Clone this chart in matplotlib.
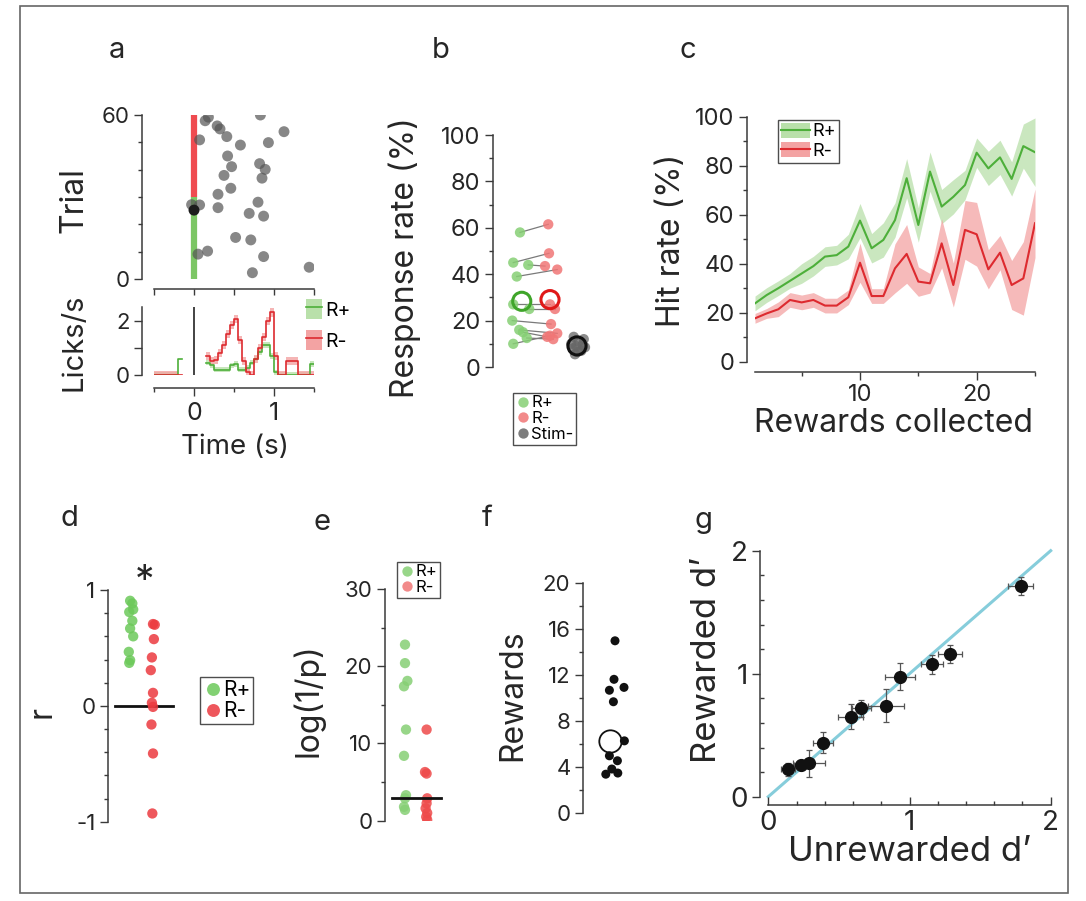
import numpy as np
import matplotlib
matplotlib.use("Agg")
import matplotlib.pyplot as plt
from matplotlib.patches import Rectangle, Patch
from matplotlib.lines import Line2D
from matplotlib.ticker import MultipleLocator, FixedLocator

plt.rcParams['font.family'] = ['Inter', 'DejaVu Sans']
plt.rcParams['axes.unicode_minus'] = False

# ---------------- data ----------------
# a: lick raster (time of first lick, trial number)
raster_time = [0.18, 0.14, 0.29, 0.325, 0.83, 1.125, 0.07, 0.41, 0.58, 0.93, 0.42,
               0.82, 0.47, 0.89, 0.375, 0.85, 0.46, 0.30, 0.80, -0.03, 0.07, 0.30,
               0.69, 0.87, 0.52, 0.71, 0.17, 0.05, 0.87, 1.44, 0.73]
raster_trial = [59.2, 57.9, 56.0, 54.9, 60.0, 53.9, 50.9, 52.1, 49.0, 49.9, 45.0,
                42.2, 41.1, 40.1, 37.9, 36.9, 33.2, 31.0, 28.1, 27.2, 27.1, 26.1,
                24.0, 23.0, 15.2, 14.3, 10.2, 9.1, 8.2, 4.3, 2.3]
highlight_trial = 25.2
rplus_block = (0, 30)
rminus_block = (30, 60)

# a: lick rate histogram (bins of 0.05 s from -0.5 s)
lick_bin_width = 0.05
lick_rplus = [0, 0, 0, 0, 0, 0, 0.6, np.nan, np.nan, np.nan, np.nan, np.nan, np.nan,
              0.45, 0.35, 0.2, 0.2, 0.2, 0.2, 0.35, 0.4, 0.2, 0.2, 0.25, 0.45, 0.6,
              0.85, 1.1, 1.1, 0.7, 0.1, 0, 0, 0, 0, 0, 0, 0, 0, 0.4]
lick_rminus = [0, 0, 0, 0, 0, 0, 0, np.nan, np.nan, np.nan, np.nan, np.nan, np.nan,
               0.7, 0.5, 0.55, 0.8, 1.1, 1.5, 1.85, 2.05, 1.3, 0.5, 0.1, 0.0, 0.6,
               1.0, 1.4, 2.0, 2.3, 0.7, 0, 0, 0.5, 0.5, 0.5, 0, 0, 0, 0]
lick_sem_rplus = 0.1
lick_sem_rminus = 0.15

# b: response rates per animal
resp_rplus = [58, 45, 44, 39, 27, 25, 20, 16, 15, 12.5, 10]
resp_rminus = [61.5, 49, 43.5, 42, 27, 25, 18.5, 14.5, 13, 12, 13.5]
resp_stim = [13, 12, 11, 10, 9.5, 9, 8.5, 8, 7, 6.5, 5.5]
jit_rplus = [0, -0.27, 0.33, -0.13, -0.27, 0.37, -0.31, -0.03, 0.12, 0.27, -0.27]
jit_rminus = [0.13, 0.16, 0, 0.49, 0.2, 0.4, 0.24, 0.49, 0.09, 0.33, 0.2]
jit_stim = [-0.1, 0.3, 0.1, -0.2, 0.25, 0.0, 0.35, -0.15, 0.2, 0.05, -0.05]

# c: hit rate vs rewards collected
rewards = list(range(1, 26))
hit_rplus = [23.8, 27.2, 30, 33, 36, 39, 42.9, 43.5, 47, 57.6, 46.3, 49.7, 57.8,
             74.9, 55.8, 77.6, 63.3, 67.3, 72.1, 85.3, 78.9, 83.4, 74.6, 88, 85.5]
hit_rplus_sem = [3, 3, 3, 3, 4, 4, 4, 4, 5, 7, 6, 7, 7, 8, 7, 8, 7, 7, 6, 6, 7, 7,
                 7, 9, 14]
hit_rminus = [17.7, 19.7, 21.4, 25.2, 24.2, 25.2, 22.9, 22.9, 26.3, 40.4, 26.8,
              26.8, 38.1, 44, 32.7, 32, 48.3, 31.3, 53.8, 52, 37.7, 44.5, 31.3, 34,
              56.5]
hit_rminus_sem = [2, 2, 3, 3, 3, 3, 3, 3, 3, 8, 3, 3, 10, 12, 6, 4, 10, 9, 12, 13,
                  8, 7, 10, 15, 14]

# d: correlation coefficients
r_rplus = [0.907, 0.884, 0.832, 0.81, 0.734, 0.668, 0.60, 0.466, 0.394, 0.371]
r_rminus = [0.706, 0.70, 0.576, 0.418, 0.308, 0.112, 0.026, -0.009, -0.161, -0.411,
            -0.929]
jit_r_rplus = [-0.04, 0.06, 0.1, -0.08, 0.06, -0.04, 0.1, -0.1, -0.04, -0.08]
jit_r_rminus = [0.0, 0.08, 0.04, -0.05, -0.1, 0.0, -0.05, 0.0, -0.07, 0.0, -0.03]

# e: significance
logp_rplus = [22.8, 20.4, 18.1, 17.4, 11.8, 8.4, 3.3, 2.9, 1.8, 1.4]
logp_rminus = [11.8, 6.3, 6.1, 2.9, 2.25, 1.6, 1.0, 0.5, 0.1]
jit_logp_rplus = [0, 0, 0.12, -0.05, 0.05, -0.05, 0.05, 0, -0.05, 0]
jit_logp_rminus = [0, -0.08, 0, 0.03, 0, -0.05, 0.03, -0.02, 0.03]
logp_threshold = 3.0

# f: rewards per animal
n_rewards = [15, 11.65, 10.7, 10.95, 9.7, 6.3, 5.0, 4.57, 3.85, 3.4, 3.5]
jit_rewards = [0.05, 0.0, -0.23, 0.5, -0.03, 0.52, -0.23, 0.17, -0.11, -0.41, 0.19]

# g: d' comparison
dprime_unrew = [0.142, 0.229, 0.29, 0.385, 0.584, 0.66, 0.834, 0.933, 1.16, 1.29, 1.787]
dprime_rew = [0.222, 0.258, 0.27, 0.44, 0.65, 0.72, 0.74, 0.976, 1.076, 1.158, 1.713]
dprime_unrew_err = [0.05, 0.05, 0.115, 0.07, 0.09, 0.065, 0.126, 0.106, 0.077, 0.085, 0.087]
dprime_rew_err = [0.05, 0.04, 0.11, 0.085, 0.1, 0.07, 0.135, 0.108, 0.08, 0.073, 0.076]

# ---------------- styling ----------------
W, H = 1086, 901
fig = plt.figure(figsize=(W / 100, H / 100), dpi=100)

GREEN = '#4daf3a'
GREEN_FILL = '#b9e0aa'
GREEN_PT = '#86cf74'
RED = '#dd2a2f'
RED_FILL = '#f3a3a3'
RED_PT = '#f07676'
SPINE = '#3a3a3a'
TXT = '#262626'
PX = 0.72  # points per pixel


def rect(x0, y0, x1, y1):
    return [x0 / W, 1 - y1 / H, (x1 - x0) / W, (y1 - y0) / H]


def base_style(ax, left_out=0, bottom_out=None, fs=16):
    ax.spines['top'].set_visible(False)
    ax.spines['right'].set_visible(False)
    ax.spines['left'].set_position(('outward', left_out * PX))
    ax.spines['left'].set_color(SPINE)
    ax.spines['left'].set_linewidth(1.1)
    if bottom_out is None:
        ax.spines['bottom'].set_visible(False)
        ax.tick_params(axis='x', which='both', bottom=False, labelbottom=False)
    else:
        ax.spines['bottom'].set_position(('outward', bottom_out * PX))
        ax.spines['bottom'].set_color(SPINE)
        ax.spines['bottom'].set_linewidth(1.1)
    ax.tick_params(which='major', length=6, width=1.0, color=SPINE, labelsize=fs,
                   labelcolor=TXT, pad=3)
    ax.tick_params(which='minor', length=3, width=1.0, color=SPINE)
    ax.patch.set_alpha(0)


def fig_label(x, y, s, fs=23, rot=0, **kw):
    fig.text(x / W, 1 - y / H, s, fontsize=fs, rotation=rot, ha='center',
             va='center', color=TXT, **kw)


def small_legend(labels, colors, box, fs, alpha=0.85):
    handles = [Line2D([], [], ls='none', marker='o', ms=fs * 0.62, mfc=c, mec='none',
                      alpha=alpha) for c in colors]
    x0, y0 = box
    leg = fig.legend(handles, labels, loc='upper left',
                     bbox_to_anchor=(x0 / W, 1 - y0 / H), bbox_transform=fig.transFigure,
                     fontsize=fs, frameon=True, fancybox=False, borderpad=0.15,
                     handletextpad=0.05, labelspacing=0.05, handlelength=0.9,
                     borderaxespad=0)
    leg.get_frame().set_edgecolor('#222222')
    leg.get_frame().set_linewidth(1.0)
    return leg


# ---------------- a: raster ----------------
ax_r = fig.add_axes(rect(154, 115, 314, 279))
base_style(ax_r, left_out=12, bottom_out=10, fs=16)
ax_r.set_xlim(-0.5, 1.5)
ax_r.set_ylim(0, 60)
ax_r.set_yticks([0, 60])
ax_r.yaxis.set_minor_locator(MultipleLocator(10))
ax_r.set_xticks([-0.5, 0, 0.5, 1, 1.5])
ax_r.tick_params(axis='x', labelbottom=False, length=4)
ax_r.plot([0, 0], list(rminus_block), color='#ef4b50', lw=4.5, solid_capstyle='butt', zorder=1)
ax_r.plot([0, 0], list(rplus_block), color='#7cc665', lw=4.5, solid_capstyle='butt', zorder=1)
ax_r.scatter(raster_time, raster_trial, s=62, color='#555555', alpha=0.7,
             edgecolors='none', zorder=2)
ax_r.scatter([0], [highlight_trial], s=62, color='#1c1c1c', edgecolors='none', zorder=3)

# ---------------- a: lick rate ----------------
ax_l = fig.add_axes(rect(154, 307, 314, 375))
base_style(ax_l, left_out=12, bottom_out=13, fs=16)
ax_l.set_xlim(-0.5, 1.5)
ax_l.set_ylim(0, 2.5)
ax_l.set_yticks([0, 1, 2])
ax_l.set_yticklabels(['0', '', '2'])
ax_l.set_xticks([0, 1])
ax_l.xaxis.set_minor_locator(FixedLocator([-0.5, 0.5, 1.5]))
ax_l.tick_params(axis='x', labelsize=18, pad=4)
n_bins = len(lick_rplus)
edges = -0.5 + lick_bin_width * np.arange(n_bins + 1)
for vals, sem, col, fcol in [(lick_rplus, lick_sem_rplus, GREEN, GREEN_FILL),
                             (lick_rminus, lick_sem_rminus, RED, RED_FILL)]:
    v = np.append(np.asarray(vals, float), vals[-1])
    ax_l.fill_between(edges, np.clip(v - sem, 0, None), v + sem, step='post',
                      color=fcol, alpha=0.8, lw=0)
    ax_l.step(edges, v, where='post', color=col, lw=1.2)
ax_l.plot([0, 0], [0, 2.5], color='#222222', lw=1.2)
lick_handles = [(Patch(fc=GREEN_FILL, ec='none'), Line2D([], [], color=GREEN, lw=1.2)),
                (Patch(fc=RED_FILL, ec='none'), Line2D([], [], color=RED, lw=1.2))]
fig.legend(lick_handles, ['R+', 'R-'], loc='upper left',
           bbox_to_anchor=(306 / W, 1 - 299 / H), bbox_transform=fig.transFigure,
           fontsize=14, frameon=False, handlelength=0.8, handleheight=1.2,
           handletextpad=0.2, labelspacing=0.55, borderaxespad=0, borderpad=0)

fig_label(117, 50, 'a', fs=21)
fig_label(74, 200, 'Trial', rot=90, fs=23)
fig_label(74, 342, 'Licks/s', rot=90, fs=21)
fig_label(235, 447, 'Time (s)', fs=20)

# ---------------- b: response rate ----------------
ax_b = fig.add_axes(rect(495, 135, 595, 367))
base_style(ax_b, left_out=2, fs=17)
ax_b.set_xlim(0, 4)
ax_b.set_ylim(0, 100)
ax_b.set_yticks(range(0, 101, 20))
ax_b.yaxis.set_minor_locator(MultipleLocator(10))
pos_rp, pos_rm, pos_st = 1.0, 2.0, 3.25
xg = [pos_rp + j for j in jit_rplus]
xr = [pos_rm + j for j in jit_rminus]
xs = [pos_st + j for j in jit_stim]
for a, b, ya, yb in zip(xg, xr, resp_rplus, resp_rminus):
    ax_b.plot([a, b], [ya, yb], color='#7a7a7a', lw=0.9, zorder=1)
ax_b.scatter(xg, resp_rplus, s=55, color=GREEN_PT, alpha=0.85, edgecolors='none', zorder=2)
ax_b.scatter(xr, resp_rminus, s=55, color=RED_PT, alpha=0.85, edgecolors='none', zorder=2)
ax_b.scatter(xs, resp_stim, s=55, color='#666666', alpha=0.75, edgecolors='none', zorder=2)
ax_b.scatter([pos_rp + 0.07], [np.mean(resp_rplus)], s=170, facecolors='none',
             edgecolors='#3fa52a', linewidths=2.2, zorder=3)
ax_b.scatter([pos_rm + 0.2], [np.mean(resp_rminus)], s=170, facecolors='none',
             edgecolors='#e01818', linewidths=2.2, zorder=3)
ax_b.scatter([pos_st + 0.03], [np.mean(resp_stim)], s=170, facecolors='none',
             edgecolors='#111111', linewidths=2.2, zorder=3)
small_legend(['R+', 'R-', 'Stim-'], [GREEN_PT, RED_PT, '#666666'], (513, 393), 12)
fig_label(441, 50, 'b', fs=21)
fig_label(405, 258, 'Response rate (%)', rot=90, fs=23)

# ---------------- c: hit rate ----------------
ax_c = fig.add_axes(rect(755, 116.7, 1035, 361.7))
base_style(ax_c, left_out=8, bottom_out=10, fs=17)
ax_c.set_xlim(1, 25)
ax_c.set_ylim(0, 100)
ax_c.set_yticks(range(0, 101, 20))
ax_c.yaxis.set_minor_locator(MultipleLocator(10))
ax_c.set_xticks([10, 20])
ax_c.xaxis.set_minor_locator(FixedLocator([5, 15, 25]))
for m, s, col, fcol in [(hit_rplus, hit_rplus_sem, GREEN, GREEN_FILL),
                        (hit_rminus, hit_rminus_sem, RED, RED_FILL)]:
    m = np.asarray(m)
    s = np.asarray(s)
    ax_c.fill_between(rewards, m - s, m + s, color=fcol, alpha=0.75, lw=0)
    ax_c.plot(rewards, m, color=col, lw=1.5)
hit_handles = [(Patch(fc=GREEN_FILL, ec='none'), Line2D([], [], color=GREEN, lw=1.5)),
               (Patch(fc=RED_FILL, ec='none'), Line2D([], [], color=RED, lw=1.5))]
leg_c = fig.legend(hit_handles, ['R+', 'R-'], loc='upper left',
                   bbox_to_anchor=(778 / W, 1 - 120 / H), bbox_transform=fig.transFigure,
                   fontsize=13, frameon=True, fancybox=False, handlelength=1.6,
                   handleheight=0.9, handletextpad=0.15, labelspacing=0.1,
                   borderaxespad=0, borderpad=0.15)
leg_c.get_frame().set_edgecolor('#222222')
leg_c.get_frame().set_linewidth(1.0)
fig_label(688, 50, 'c', fs=21)
fig_label(672, 240, 'Hit rate (%)', rot=90, fs=23)
fig_label(893, 424, 'Rewards collected', fs=23)

# ---------------- d: correlation ----------------
ax_d = fig.add_axes(rect(109, 590, 175, 821.7))
base_style(ax_d, left_out=1, fs=16)
ax_d.set_xlim(0, 3)
ax_d.set_ylim(-1, 1)
ax_d.set_yticks([-1, 0, 1])
ax_d.yaxis.set_minor_locator(MultipleLocator(0.2))
ax_d.plot([0.27, 2.9], [0, 0], color='#111111', lw=2, zorder=1)
ax_d.scatter([1 + j for j in jit_r_rplus], r_rplus, s=55, color='#6cc95a',
             alpha=0.85, edgecolors='none', zorder=2)
ax_d.scatter([2 + j for j in jit_r_rminus], r_rminus, s=55, color='#ec3a3f',
             alpha=0.85, edgecolors='none', zorder=2)
fig_label(145, 583, '*', fs=28)
small_legend(['R+', 'R-'], ['#6cc95a', '#ec3a3f'], (200, 677), 15)
fig_label(69, 518, 'd', fs=21)
fig_label(42, 712, 'r', rot=90, fs=23)

# ---------------- e: log(1/p) ----------------
ax_e = fig.add_axes(rect(386, 589, 446, 820.7))
base_style(ax_e, left_out=1, fs=16)
ax_e.set_xlim(0, 3)
ax_e.set_ylim(0, 30)
ax_e.set_yticks([0, 10, 20, 30])
ax_e.yaxis.set_minor_locator(MultipleLocator(5))
ax_e.plot([0.28, 2.73], [logp_threshold, logp_threshold], color='#111111', lw=2, zorder=3)
ax_e.scatter([0.95 + j for j in jit_logp_rplus], logp_rplus, s=55, color=GREEN_PT,
             alpha=0.85, edgecolors='none', zorder=2)
ax_e.scatter([2.03 + j for j in jit_logp_rminus], logp_rminus, s=55, color='#ee4a4a',
             alpha=0.85, edgecolors='none', zorder=2)
small_legend(['R+', 'R-'], [GREEN_PT, RED_PT], (397, 562), 12)
fig_label(322, 522, 'e', fs=21)
fig_label(308, 700, 'log(1/p)', rot=90, fs=23)

# ---------------- f: rewards ----------------
ax_f = fig.add_axes(rect(584, 583.3, 644, 813.3))
base_style(ax_f, left_out=1, fs=16)
ax_f.set_xlim(0, 3)
ax_f.set_ylim(0, 20)
ax_f.set_yticks(range(0, 21, 4))
ax_f.yaxis.set_minor_locator(MultipleLocator(2))
ax_f.scatter([1.5 + j for j in jit_rewards], n_rewards, s=42, color='#111111',
             edgecolors='none', zorder=2)
ax_f.scatter([1.3], [np.median(n_rewards)], s=260, facecolors='white',
             edgecolors='#111111', linewidths=1.3, zorder=1)
fig_label(487, 519, 'f', fs=21)
fig_label(513, 695, 'Rewards', rot=90, fs=23)

# ---------------- g: d' ----------------
ax_g = fig.add_axes(rect(768.3, 550.7, 1050.7, 796.7))
base_style(ax_g, left_out=8, bottom_out=8, fs=20)
ax_g.set_xlim(0, 2)
ax_g.set_ylim(0, 2)
ax_g.set_xticks([0, 1, 2])
ax_g.set_yticks([0, 1, 2])
ax_g.xaxis.set_minor_locator(MultipleLocator(0.2))
ax_g.yaxis.set_minor_locator(MultipleLocator(0.2))
ax_g.tick_params(axis='x', which='both', direction='in', pad=4)
ax_g.tick_params(axis='y', which='minor', direction='in')
ax_g.plot([0, 2], [0, 2], color='#86cddb', lw=2.2, zorder=1, clip_on=False)
ax_g.errorbar(dprime_unrew, dprime_rew, xerr=dprime_unrew_err, yerr=dprime_rew_err,
              fmt='o', ms=8.5, mfc='#111111', mec='#111111', ecolor='#555555',
              elinewidth=0.9, capsize=2, capthick=0.9, zorder=2)
fig_label(704, 521, 'g', fs=21)
fig_label(707, 660, 'Rewarded d\u2019', rot=90, fs=25)
fig_label(910, 852, 'Unrewarded d\u2019', fs=25)

# outer frame
fig.patches.append(Rectangle((20 / W, 1 - 893 / H), 1048 / W, 887 / H,
                             transform=fig.transFigure, fill=False, ec='#666666', lw=1.2))

fig.savefig('out.png', dpi=100)
